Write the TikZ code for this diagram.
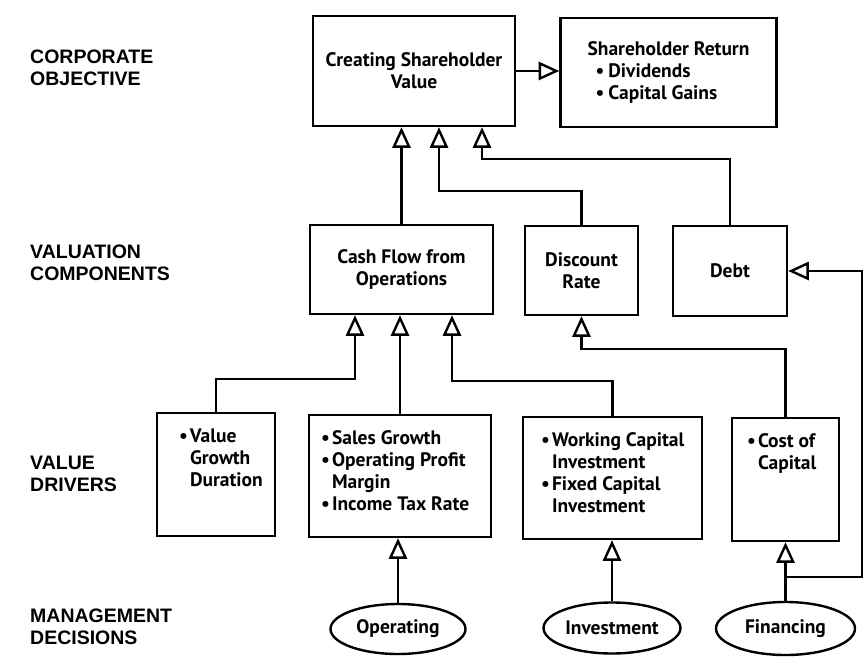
\documentclass[tikz,border=0pt]{standalone}
\usepackage{fontspec}
\setmainfont{PT Sans}
\newfontfamily\lblfont{Liberation Sans}
\usepackage{tikz}
\usetikzlibrary{arrows.meta, shapes.geometric, calc}

\newcommand{\boxtext}{\bfseries\fontsize{19.5}{22}\selectfont}
\newcommand{\bitem}{\par\hangindent=11pt\hangafter=1\noindent\makebox[11pt][l]{\textbullet}}
\newcommand{\drvbody}[4]{\parbox[c][#2][t]{#1}{\leftskip=#3\relax\vspace*{16pt}#4}}

\begin{document}
\begin{tikzpicture}[x=1pt, y=-1pt,
    box/.style={draw, line width=2.4pt, align=center, inner sep=0pt, font=\boxtext},
    drv/.style={draw, line width=2.4pt, inner sep=0pt, font=\boxtext},
    dec/.style={draw, ellipse, line width=2.4pt, inner sep=0pt, font=\boxtext},
    lbl/.style={anchor=west, align=left, inner sep=0pt, font=\lblfont\bfseries\fontsize{19.5}{22}\selectfont},
    link/.style={-{Triangle[open, scale length=2.1, scale width=1.6]}, line width=2.4pt}]
  \path[use as bounding box, fill=white] (0,0) rectangle (865,658);

  % row labels
  \node[lbl] (obj) at (30,68) {CORPORATE\\OBJECTIVE};
  \node[lbl] (comp) at (30,263) {VALUATION\\COMPONENTS};
  \node[lbl] (drivers) at (30,474) {VALUE\\DRIVERS};
  \node[lbl] (mgmt) at (30,627) {MANAGEMENT\\DECISIONS};

  % objective
  \node[box, minimum width=202pt, minimum height=110pt] (csv) at (414,71) {Creating Shareholder\\Value};
  \node[box, align=left, minimum width=216pt, minimum height=109pt] (ret) at (668.5,72.5)
    {Shareholder Return\\\hspace*{8pt}\textbullet\hspace{4pt}Dividends\\\hspace*{8pt}\textbullet\hspace{4pt}Capital Gains};

  % components
  \node[box, minimum width=183pt, minimum height=89pt] (cfo) at (401.5,269.5) {Cash Flow from\\Operations};
  \node[box, minimum width=113pt, minimum height=89pt] (disc) at (581.5,270.5) {Discount\\Rate};
  \node[box, minimum width=114pt, minimum height=90pt] (debt) at (730,271) {Debt};

  % drivers
  \node[drv] (vgd) at (216,474.5) {\drvbody{118pt}{123pt}{22pt}{\bitem Value\\Growth\\Duration}};
  \node[drv] (sg) at (400,476) {\drvbody{182pt}{122pt}{12pt}{\bitem Sales~Growth\bitem Operating~Profit\\Margin\bitem Income~Tax~Rate}};
  \node[drv] (wc) at (612.5,478) {\drvbody{179pt}{122pt}{18pt}{\bitem Working~Capital\\Investment\bitem Fixed~Capital\\Investment}};
  \node[drv] (coc) at (785.5,479.5) {\drvbody{107pt}{123pt}{15pt}{\bitem Cost~of\\Capital}};

  % decisions
  \node[dec, minimum width=135pt, minimum height=50pt] (opd) at (398,629) {Operating};
  \node[dec, minimum width=137pt, minimum height=51pt] (invd) at (612,628) {Investment};
  \node[dec, minimum width=139pt, minimum height=53pt] (find) at (785.5,628.5) {Financing};

  \draw[link] (csv.east) -- (csv.east -| ret.west);
  \draw[link] (cfo.north) -- (cfo.north |- csv.south);
  \draw[link] (disc.north) -- ++(0,-34) -| ([xshift=25pt]csv.south);
  \draw[link] (debt.north) -- ++(0,-66) -| ([xshift=68pt]csv.south);

  \draw[link] (vgd.north) -- ++(0,-33) -| ([xshift=-46.5pt]cfo.south);
  \draw[link] (sg.north) -- (sg.north |- cfo.south);
  \draw[link] (wc.north) -- ++(0,-35) -| ([xshift=50.5pt]cfo.south);
  \draw[link] (coc.north) -- ++(0,-68) -| (disc.south);

  \draw[link] (opd.north) -- (opd.north |- sg.south);
  \draw[link] (invd.north) -- (invd.north |- wc.south);
  \draw[link] (find.north) -- (find.north |- coc.south);

  % financing also feeds debt
  \coordinate (fbr) at (785.5,577);
  \coordinate (rim) at (862,577);
  \draw[link] (fbr) -- (rim) |- (debt.east);
\end{tikzpicture}
\end{document}
